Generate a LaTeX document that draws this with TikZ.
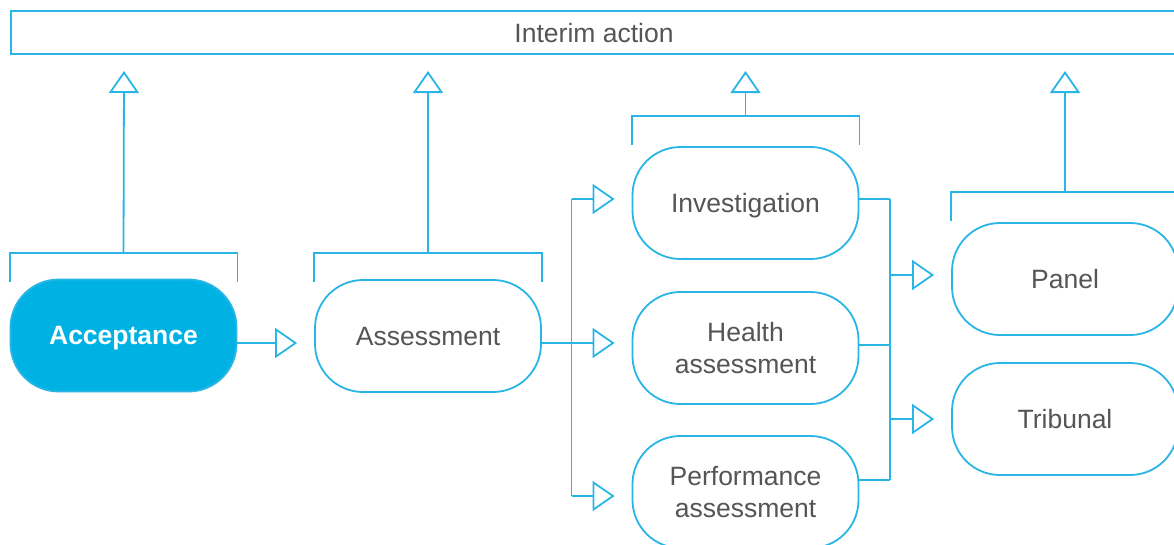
\documentclass[tikz,border=0pt]{standalone}
\usepackage{fontspec}
\setmainfont{Liberation Sans}
\usetikzlibrary{arrows.meta}
\definecolor{lineblue}{RGB}{41,182,230}
\definecolor{fillblue}{RGB}{0,178,227}
\definecolor{txtgray}{RGB}{85,85,85}
\tikzset{
  stage/.style={draw=lineblue, line width=1.8pt, rounded corners=48pt, minimum width=226pt, minimum height=112pt, inner sep=0pt, align=center, text=txtgray, font=\fontsize{26.5}{32}\selectfont},
  oneline/.style={text depth=0pt},
  hot/.style={stage, fill=fillblue, text=white, font=\fontsize{26.5}{32}\selectfont\bfseries},
  conn/.style={draw=lineblue, line width=1.8pt},
  arr/.style={conn, -{Triangle[open, length=22pt, width=30pt, line width=1.8pt]}},
}
\begin{document}
\begin{tikzpicture}[x=1pt,y=-1pt]
\clip (0,0) rectangle (1174,544);
\fill[white] (0,0) rectangle (1174,544);
% top box
\node[draw=lineblue, line width=1.8pt, minimum width=1200pt, minimum height=43pt, inner sep=0pt, anchor=north west] (top) at (10,10) {};
\node[text=txtgray, font=\fontsize{26.5}{30}\selectfont] (toplabel) at (594,33) {Interim action};
% stages
\node[hot, oneline] (acc) at (123.5,335.5) {Acceptance};
\node[stage, oneline] (ass) at (428,336) {Assessment};
\node[stage, oneline] (inv) at (745.5,203) {Investigation};
\node[stage] (hea) at (745.5,348) {Health\\assessment};
\node[stage] (per) at (745.5,492) {Performance\\assessment};
\node[stage, oneline] (pan) at (1065,279) {Panel};
\node[stage, oneline] (tri) at (1065,419) {Tribunal};
% brackets and up arrows
\coordinate (tipA) at (124,71);
\coordinate (tipB) at (428,71);
\coordinate (tipC) at (745.5,71);
\coordinate (tipD) at (1065,71);
\draw[conn] (acc.north west |- 0,282) -- (acc.north west |- 0,253) -- (acc.north east |- 0,253) -- (acc.north east |- 0,282);
\draw[arr] (acc.north |- 0,253) -- (tipA);
\draw[conn] (ass.north west |- 0,282) -- (ass.north west |- 0,253) -- (ass.north east |- 0,253) -- (ass.north east |- 0,282);
\draw[arr] (ass.north |- 0,253) -- (tipB);
\draw[conn] (inv.north west |- 0,145) -- (inv.north west |- 0,116) -- (inv.north east |- 0,116) -- (inv.north east |- 0,145);
\draw[arr] (inv.north |- 0,116) -- (tipC);
\draw[conn] (pan.north west |- 0,221) -- (pan.north west |- 0,192) -- (1200,192);
\draw[arr] (pan.north |- 0,192) -- (tipD);
% horizontal flow
\coordinate (splitL) at (571.5,343);
\coordinate (splitR) at (890,199);
\draw[arr] (acc.east |- 0,343) -- ([xshift=-17pt]ass.west |- 0,343);
\draw[conn] (ass.east |- 0,343) -- (splitL);
\draw[conn] (splitL |- 0,199) -- (splitL |- 0,496);
\draw[arr] (splitL |- 0,199) -- ([xshift=-17pt]inv.west |- 0,199);
\draw[arr] (splitL) -- ([xshift=-17pt]hea.west |- 0,343);
\draw[arr] (splitL |- 0,496) -- ([xshift=-17pt]per.west |- 0,496);
\draw[conn] (inv.east |- 0,199) -- (splitR);
\draw[conn] (hea.east |- 0,345) -- (splitR |- 0,345);
\draw[conn] (per.east |- 0,480) -- (splitR |- 0,480);
\draw[conn] (splitR) -- (splitR |- 0,480);
\draw[arr] (splitR |- 0,275) -- ([xshift=-17pt]pan.west |- 0,275);
\draw[arr] (splitR |- 0,419) -- ([xshift=-17pt]tri.west |- 0,419);
\end{tikzpicture}
\end{document}
